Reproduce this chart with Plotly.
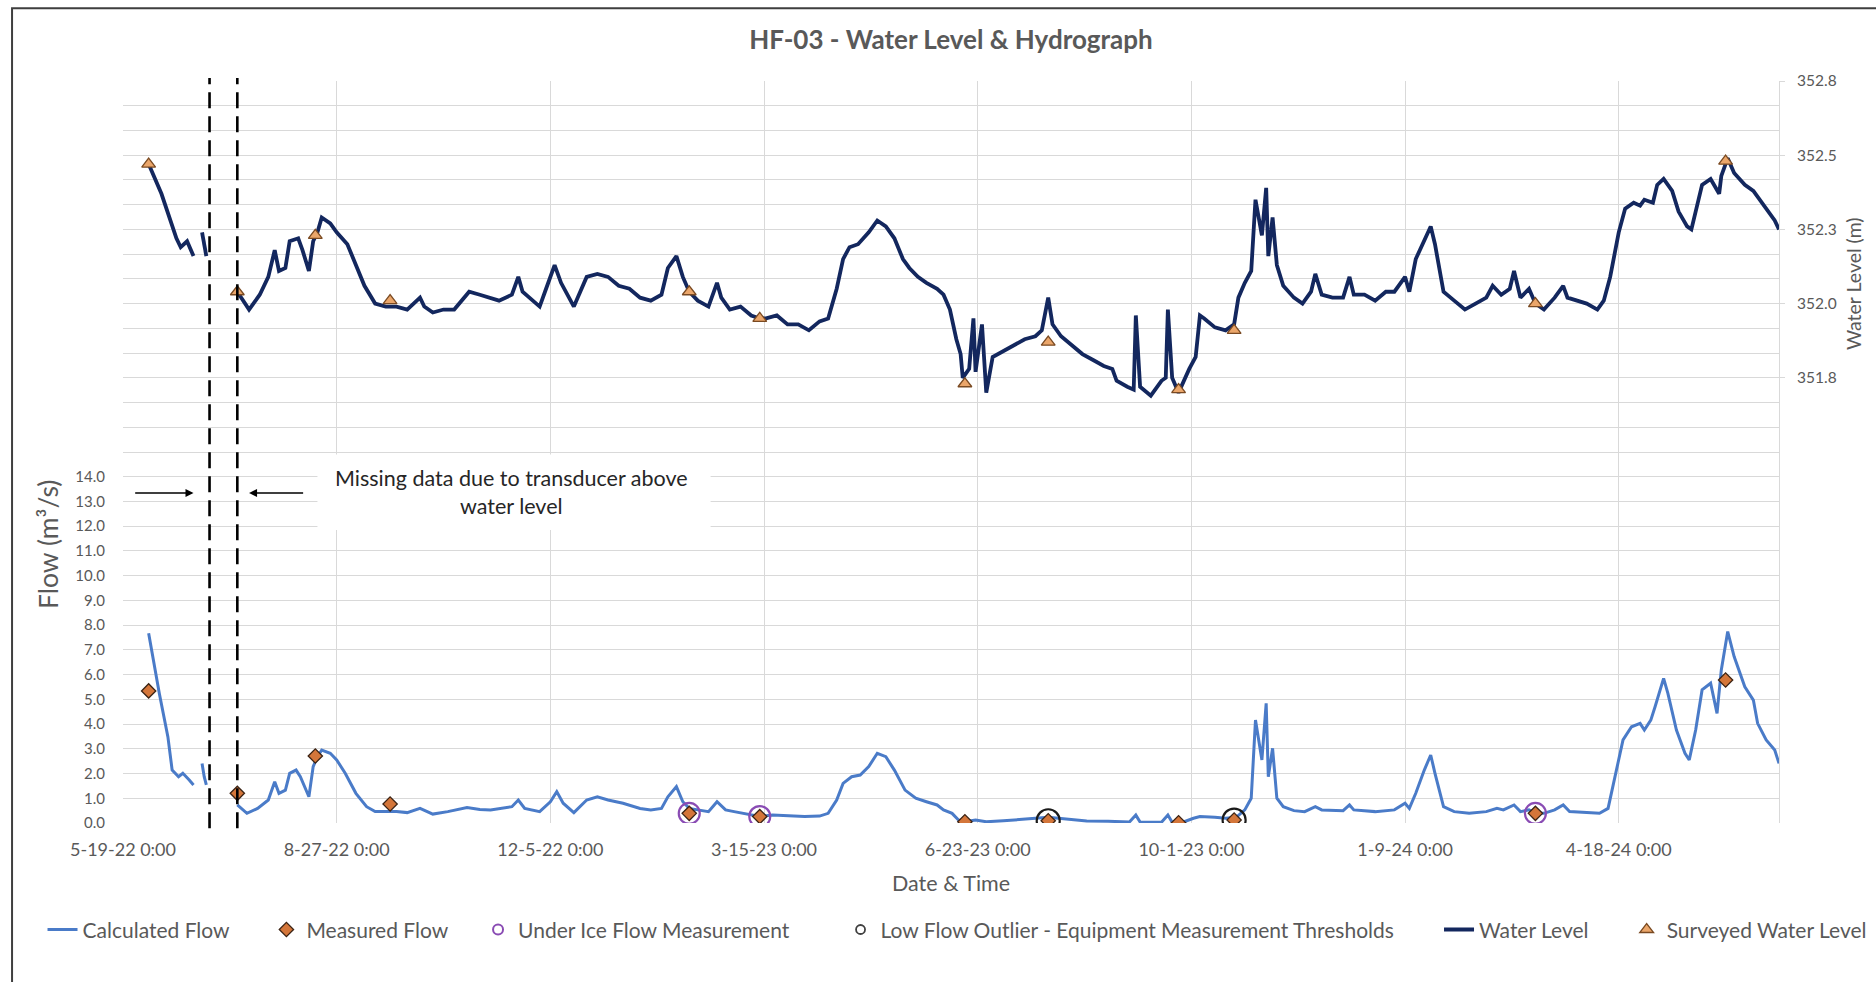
import plotly.graph_objects as go

# ---------------- data ----------------
wl_dates = [
    "2022-05-31", "2022-06-06", "2022-06-13", "2022-06-15", "2022-06-18", "2022-06-20", "2022-06-21",
    "2022-06-23",
    "2022-06-25", "2022-06-26", "2022-06-27",
    "2022-07-01",
    "2022-07-11 12:00", "2022-07-17", "2022-07-22", "2022-07-26", "2022-07-29", "2022-07-31", "2022-08-03",
    "2022-08-05", "2022-08-09", "2022-08-11", "2022-08-14", "2022-08-16", "2022-08-18", "2022-08-20",
    "2022-08-24", "2022-08-27", "2022-09-01", "2022-09-05", "2022-09-09", "2022-09-14", "2022-09-19",
    "2022-09-24", "2022-09-29", "2022-10-05", "2022-10-07", "2022-10-11", "2022-10-16", "2022-10-21",
    "2022-10-28", "2022-11-02", "2022-11-07", "2022-11-11", "2022-11-17", "2022-11-20", "2022-11-22",
    "2022-11-30", "2022-12-03", "2022-12-07", "2022-12-10", "2022-12-16", "2022-12-22", "2022-12-27",
    "2023-01-01", "2023-01-06", "2023-01-11", "2023-01-16", "2023-01-21", "2023-01-26", "2023-01-29",
    "2023-02-02", "2023-02-05", "2023-02-08", "2023-02-12", "2023-02-17", "2023-02-21", "2023-02-23",
    "2023-02-27", "2023-03-04", "2023-03-09", "2023-03-13", "2023-03-16", "2023-03-21", "2023-03-26",
    "2023-03-31", "2023-04-05", "2023-04-10", "2023-04-14", "2023-04-18", "2023-04-21", "2023-04-24",
    "2023-04-28", "2023-05-03", "2023-05-07", "2023-05-11", "2023-05-15", "2023-05-19", "2023-05-22",
    "2023-05-26", "2023-05-30", "2023-06-04", "2023-06-07", "2023-06-10", "2023-06-13", "2023-06-15",
    "2023-06-16", "2023-06-19", "2023-06-21", "2023-06-22", "2023-06-25", "2023-06-27", "2023-06-30",
    "2023-07-05", "2023-07-10", "2023-07-15", "2023-07-20", "2023-07-23", "2023-07-26", "2023-07-28",
    "2023-08-01", "2023-08-06", "2023-08-11", "2023-08-16", "2023-08-21", "2023-08-25", "2023-08-27",
    "2023-09-01", "2023-09-04", "2023-09-05", "2023-09-07", "2023-09-12", "2023-09-17", "2023-09-19",
    "2023-09-20", "2023-09-22", "2023-09-25", "2023-09-30", "2023-10-03", "2023-10-05", "2023-10-07",
    "2023-10-12", "2023-10-17", "2023-10-21", "2023-10-23", "2023-10-26", "2023-10-29", "2023-10-31",
    "2023-11-03", "2023-11-05", "2023-11-06", "2023-11-08", "2023-11-10", "2023-11-13", "2023-11-18",
    "2023-11-22", "2023-11-26", "2023-11-28", "2023-12-01", "2023-12-06", "2023-12-11", "2023-12-14",
    "2023-12-16", "2023-12-21", "2023-12-26", "2023-12-31", "2024-01-04", "2024-01-09", "2024-01-11",
    "2024-01-14", "2024-01-18", "2024-01-21", "2024-01-23", "2024-01-27", "2024-02-01", "2024-02-06",
    "2024-02-11", "2024-02-16", "2024-02-19", "2024-02-23", "2024-02-27", "2024-02-29", "2024-03-03",
    "2024-03-07", "2024-03-10", "2024-03-14", "2024-03-19", "2024-03-23", "2024-03-25", "2024-03-29",
    "2024-04-03", "2024-04-08", "2024-04-11", "2024-04-14", "2024-04-18", "2024-04-21", "2024-04-25",
    "2024-04-28", "2024-04-30", "2024-05-04", "2024-05-06", "2024-05-09", "2024-05-13", "2024-05-16",
    "2024-05-20", "2024-05-22", "2024-05-25", "2024-05-27", "2024-05-31", "2024-06-04", "2024-06-05",
    "2024-06-08", "2024-06-11", "2024-06-16", "2024-06-20", "2024-06-22", "2024-06-26", "2024-06-30",
    "2024-07-02",
]
wl_values = [
    352.47, 352.37, 352.22, 352.19, 352.21, 352.18, 352.16,
    None,
    352.24, 352.19, 352.16,
    None,
    352.04, 351.98, 352.03, 352.09, 352.18, 352.11, 352.12,
    352.21, 352.22, 352.18, 352.11, 352.21, 352.24, 352.29,
    352.27, 352.24, 352.20, 352.13, 352.06, 352.00, 351.99,
    351.99, 351.98, 352.02, 351.99, 351.97, 351.98, 351.98,
    352.04, 352.03, 352.02, 352.01, 352.03, 352.09, 352.04,
    351.99, 352.05, 352.13, 352.07, 351.99, 352.09, 352.10,
    352.09, 352.06, 352.05, 352.02, 352.01, 352.03, 352.12,
    352.16, 352.09, 352.04, 352.01, 351.99, 352.07, 352.02,
    351.98, 351.99, 351.96, 351.95, 351.95, 351.96, 351.93,
    351.93, 351.91, 351.94, 351.95, 352.05, 352.15, 352.19,
    352.20, 352.24, 352.28, 352.26, 352.22, 352.15, 352.12,
    352.09, 352.07, 352.05, 352.03, 351.98, 351.88, 351.83,
    351.75, 351.78, 351.95, 351.77, 351.93, 351.70, 351.82,
    351.84, 351.86, 351.88, 351.89, 351.91, 352.02, 351.93,
    351.89, 351.86, 351.83, 351.81, 351.79, 351.78, 351.74,
    351.72, 351.71, 351.96, 351.72, 351.69, 351.74, 351.75,
    351.98, 351.75, 351.70, 351.78, 351.82, 351.96, 351.95,
    351.92, 351.91, 351.93, 352.02, 352.07, 352.11, 352.35,
    352.23, 352.39, 352.16, 352.29, 352.13, 352.06, 352.02,
    352.00, 352.04, 352.10, 352.03, 352.02, 352.02, 352.09,
    352.03, 352.03, 352.01, 352.04, 352.04, 352.09, 352.04,
    352.15, 352.21, 352.26, 352.20, 352.04, 352.01, 351.98,
    352.00, 352.02, 352.06, 352.03, 352.05, 352.11, 352.02,
    352.05, 352.00, 351.98, 352.02, 352.06, 352.02, 352.01,
    352.00, 351.98, 352.01, 352.09, 352.24, 352.32, 352.34,
    352.33, 352.35, 352.34, 352.40, 352.42, 352.38, 352.31,
    352.26, 352.25, 352.34, 352.40, 352.42, 352.37, 352.43,
    352.49, 352.44, 352.40, 352.38, 352.36, 352.32, 352.28,
    352.25,
]

flow_dates = [
    "2022-05-31", "2022-06-05", "2022-06-09", "2022-06-11", "2022-06-14", "2022-06-16", "2022-06-19",
    "2022-06-21",
    "2022-06-23",
    "2022-06-25", "2022-06-26", "2022-06-27",
    "2022-07-01",
    "2022-07-11 12:00", "2022-07-16", "2022-07-21", "2022-07-26", "2022-07-29", "2022-07-31", "2022-08-03",
    "2022-08-05", "2022-08-08", "2022-08-10", "2022-08-14", "2022-08-16", "2022-08-18", "2022-08-20",
    "2022-08-24", "2022-08-27", "2022-08-31", "2022-09-05", "2022-09-10", "2022-09-14", "2022-09-19",
    "2022-09-24", "2022-09-29", "2022-10-05", "2022-10-11", "2022-10-18", "2022-10-27", "2022-11-02",
    "2022-11-07", "2022-11-17", "2022-11-20", "2022-11-23", "2022-11-30", "2022-12-05", "2022-12-08",
    "2022-12-11", "2022-12-16", "2022-12-22", "2022-12-27", "2023-01-01", "2023-01-08", "2023-01-16",
    "2023-01-21", "2023-01-26", "2023-01-29", "2023-02-02", "2023-02-05", "2023-02-08", "2023-02-12",
    "2023-02-17", "2023-02-21", "2023-02-25", "2023-03-01", "2023-03-09", "2023-03-13", "2023-03-19",
    "2023-03-26", "2023-04-03", "2023-04-10", "2023-04-14", "2023-04-18", "2023-04-21", "2023-04-25",
    "2023-04-29", "2023-05-03", "2023-05-07", "2023-05-11", "2023-05-15", "2023-05-20", "2023-05-25",
    "2023-05-30", "2023-06-04", "2023-06-07", "2023-06-11", "2023-06-14", "2023-06-17", "2023-06-22",
    "2023-06-27", "2023-07-05", "2023-07-12", "2023-07-20", "2023-07-26", "2023-07-30", "2023-08-06",
    "2023-08-13", "2023-08-23", "2023-09-02", "2023-09-05", "2023-09-07", "2023-09-17", "2023-09-20",
    "2023-09-22", "2023-09-27", "2023-10-02", "2023-10-05", "2023-10-12", "2023-10-17", "2023-10-22",
    "2023-10-26", "2023-10-29", "2023-10-31", "2023-11-03", "2023-11-05", "2023-11-06", "2023-11-08",
    "2023-11-10", "2023-11-13", "2023-11-18", "2023-11-23", "2023-11-28", "2023-12-01", "2023-12-11",
    "2023-12-14", "2023-12-16", "2023-12-26", "2024-01-04", "2024-01-09", "2024-01-11", "2024-01-14",
    "2024-01-18", "2024-01-21", "2024-01-23", "2024-01-27", "2024-02-01", "2024-02-08", "2024-02-16",
    "2024-02-21", "2024-02-24", "2024-02-29", "2024-03-03", "2024-03-07", "2024-03-10", "2024-03-14",
    "2024-03-19", "2024-03-23", "2024-03-26", "2024-04-03", "2024-04-09", "2024-04-13", "2024-04-16",
    "2024-04-20", "2024-04-24", "2024-04-28", "2024-04-30", "2024-05-03", "2024-05-05", "2024-05-09",
    "2024-05-11", "2024-05-15", "2024-05-19", "2024-05-21", "2024-05-24", "2024-05-27", "2024-05-31",
    "2024-06-03", "2024-06-05", "2024-06-08", "2024-06-11", "2024-06-16", "2024-06-20", "2024-06-22",
    "2024-06-26", "2024-06-30", "2024-07-02",
]
flow_values = [
    7.67, 5.24, 3.49, 2.14, 1.87, 2.01, 1.74,
    1.54,
    None,
    2.41, 1.87, 1.54,
    None,
    0.73, 0.39, 0.59, 0.93, 1.67, 1.20, 1.33,
    2.01, 2.14, 1.87, 1.06, 2.28, 2.68, 2.95,
    2.82, 2.55, 2.01, 1.20, 0.66, 0.46, 0.46,
    0.46, 0.42, 0.59, 0.36, 0.46, 0.63, 0.55,
    0.53, 0.66, 0.93, 0.59, 0.46, 0.86, 1.27,
    0.80, 0.42, 0.93, 1.06, 0.93, 0.80, 0.59,
    0.53, 0.59, 1.06, 1.47, 0.86, 0.59, 0.53,
    0.46, 0.86, 0.53, 0.46, 0.32, 0.26, 0.32,
    0.28, 0.26, 0.28, 0.39, 0.93, 1.60, 1.87,
    1.94, 2.28, 2.82, 2.68, 2.14, 1.33, 1.00,
    0.86, 0.73, 0.53, 0.39, 0.12, 0.05, 0.12,
    0.05, 0.09, 0.15, 0.19, 0.23, 0.19, 0.12,
    0.08, 0.07, 0.04, 0.32, 0.04, 0.03, 0.32,
    0.03, 0.03, 0.19, 0.26, 0.23, 0.19, 0.23,
    0.53, 1.00, 4.16, 2.55, 4.84, 1.87, 3.02,
    1.00, 0.66, 0.50, 0.46, 0.66, 0.53, 0.50,
    0.73, 0.53, 0.46, 0.53, 0.80, 0.59, 1.20,
    2.14, 2.75, 2.01, 0.66, 0.46, 0.39, 0.46,
    0.59, 0.53, 0.73, 0.46, 0.53, 0.39, 0.39,
    0.53, 0.73, 0.46, 0.42, 0.39, 0.59, 1.74,
    3.36, 3.89, 4.03, 3.76, 4.16, 4.70, 5.85,
    5.24, 3.76, 2.82, 2.55, 3.76, 5.38, 5.65,
    4.43, 6.19, 7.74, 6.73, 5.51, 4.97, 4.03,
    3.36, 2.95, 2.41,
]

visit_dates = ["2022-05-31", "2022-07-11 12:00", "2022-08-17", "2022-09-21", "2023-02-08", "2023-03-13",
               "2023-06-17", "2023-07-26", "2023-09-25", "2023-10-21", "2024-03-10", "2024-06-07"]
surveyed_wl = [352.47, 352.04, 352.23, 352.01, 352.04, 351.95, 351.73, 351.87, 351.71, 351.91, 352.00, 352.48]
measured_flow = [5.34, 1.20, 2.71, 0.77, 0.39, 0.26, 0.05, 0.09, 0.01, 0.12, 0.39, 5.78]

ice_dates = ["2023-02-08", "2023-03-13", "2024-03-10"]
ice_flow = [0.39, 0.26, 0.39]
outlier_dates = ["2023-07-26", "2023-10-21"]
outlier_flow = [0.09, 0.12]

gap_lines = ["2022-06-28 12:00", "2022-07-11 12:00"]

x_tick_vals = ["2022-05-19", "2022-08-27", "2022-12-05", "2023-03-15", "2023-06-23",
               "2023-10-01", "2024-01-09", "2024-04-18"]
x_tick_text = ["5-19-22 0:00", "8-27-22 0:00", "12-5-22 0:00", "3-15-23 0:00", "6-23-23 0:00",
               "10-1-23 0:00", "1-9-24 0:00", "4-18-24 0:00"]
flow_ticks = list(range(0, 31))
flow_tick_text = [f"{v:.1f}" if v <= 14 else "" for v in flow_ticks]
wl_tick_vals = [351.75, 352.0, 352.25, 352.5, 352.75]
wl_tick_text = ["351.8", "352.0", "352.3", "352.5", "352.8"]

# ---------------- styling ----------------
FONT = "Lato, 'Open Sans', sans-serif"
GREY = "#595959"
GRID = "#d9d9d9"
FLOW_C = "#4a7bc8"
WL_C = "#13275e"
LEG_FONT = dict(family=FONT, size=21, color=GREY)

fig = go.Figure()

fig.add_trace(go.Scatter(x=flow_dates, y=flow_values, mode="lines", name="Calculated Flow",
                         line=dict(color=FLOW_C, width=3), connectgaps=False, legend="legend"))
fig.add_trace(go.Scatter(x=visit_dates, y=measured_flow, mode="markers", name="Measured Flow",
                         marker=dict(symbol="diamond", size=11, color="#d4763a",
                                     line=dict(color="#3b2314", width=1.3)), legend="legend2"))
fig.add_trace(go.Scatter(x=ice_dates, y=ice_flow, mode="markers", showlegend=False,
                         name="Under Ice Flow Measurement",
                         marker=dict(symbol="circle-open", size=21, color="#8a4cb4",
                                     line=dict(width=2.2))))
fig.add_trace(go.Scatter(x=[None], y=[None], mode="markers", name="Under Ice Flow Measurement",
                         marker=dict(symbol="circle-open", size=10, color="#8a4cb4",
                                     line=dict(width=2)), legend="legend3"))
fig.add_trace(go.Scatter(x=outlier_dates, y=outlier_flow, mode="markers", showlegend=False,
                         name="Low Flow Outlier - Equipment Measurement Thresholds",
                         marker=dict(symbol="circle-open", size=23, color="#1a1a1a",
                                     line=dict(width=2.2))))
fig.add_trace(go.Scatter(x=[None], y=[None], mode="markers",
                         name="Low Flow Outlier - Equipment Measurement Thresholds",
                         marker=dict(symbol="circle-open", size=9, color="#404040",
                                     line=dict(width=1.8)), legend="legend4"))
fig.add_trace(go.Scatter(x=wl_dates, y=wl_values, mode="lines", name="Water Level", yaxis="y2",
                         line=dict(color=WL_C, width=3.8), connectgaps=False, legend="legend5"))
fig.add_trace(go.Scatter(x=visit_dates, y=surveyed_wl, mode="markers", name="Surveyed Water Level",
                         yaxis="y2",
                         marker=dict(symbol="triangle-up", size=12, color="#eba66a",
                                     line=dict(color="#7a4a22", width=1.3)), legend="legend6"))

# dashed "missing data" lines
for gx in gap_lines:
    fig.add_shape(type="line", xref="x", yref="paper", x0=gx, x1=gx, y0=-0.007, y1=1.004,
                  line=dict(color="black", width=2.6, dash="16px,8px"), layer="above")

# white box behind the note (hides gridlines)
fig.add_shape(type="rect", xref="x", yref="y", x0="2022-08-18", x1="2023-02-18", y0=11.85, y1=14.9,
              fillcolor="white", line=dict(width=0), layer="between")

fig.add_annotation(x="2022-11-17", y=13.4, xref="x", yref="y", showarrow=False,
                   xanchor="center", yanchor="middle",
                   text="Missing data due to transducer above<br>water level",
                   font=dict(family=FONT, size=21.5, color="#262626"), align="center")

# arrows
fig.add_annotation(x="2022-06-21", y=13.34, ax="2022-05-24", ay=13.34, xref="x", yref="y",
                   axref="x", ayref="y", text="", showarrow=True, arrowhead=2, arrowsize=1,
                   arrowwidth=1.6, arrowcolor="black")
fig.add_annotation(x="2022-07-17", y=13.34, ax="2022-08-12", ay=13.34, xref="x", yref="y",
                   axref="x", ayref="y", text="", showarrow=True, arrowhead=2, arrowsize=1,
                   arrowwidth=1.6, arrowcolor="black")

# axis titles as annotations
fig.add_annotation(x=-0.0453, y=0.376, xref="paper", yref="paper", text="Flow (m³/s)",
                   xanchor="center", yanchor="middle",
                   textangle=-90, showarrow=False, font=dict(family=FONT, size=26.5, color=GREY))
fig.add_annotation(x=1.0447, y=0.7264, xref="paper", yref="paper", text="Water Level (m)",
                   xanchor="center", yanchor="middle",
                   textangle=-90, showarrow=False, font=dict(family=FONT, size=19.5, color=GREY))
fig.add_annotation(x=0.5, y=-0.081, xref="paper", yref="paper", text="Date &amp; Time",
                   xanchor="center", yanchor="middle",
                   showarrow=False, font=dict(family=FONT, size=21.5, color=GREY))

# outer chart border
fig.add_shape(type="rect", xref="paper", yref="paper", x0=-0.067, x1=1.07, y0=-0.25, y1=1.098,
              line=dict(color="#3f3f3f", width=2), fillcolor="rgba(0,0,0,0)", layer="above")

def leg(xp):
    return dict(orientation="h", x=xp, xanchor="left", y=-0.144, yanchor="middle",
                font=LEG_FONT, bgcolor="rgba(0,0,0,0)", borderwidth=0)

fig.update_layout(
    width=1876, height=982,
    margin=dict(l=123, r=97, t=81, b=159, autoexpand=False),
    paper_bgcolor="white", plot_bgcolor="white",
    font=dict(family=FONT, color=GREY, size=18),
    title=dict(text="<b>HF-03 - Water Level &amp; Hydrograph</b>", x=0.5, xref="paper",
               xanchor="center", y=0.9598, yanchor="middle",
               font=dict(family=FONT, size=26, color=GREY)),
    xaxis=dict(type="date", range=["2022-05-19", "2024-07-02"], tickvals=x_tick_vals,
               ticktext=x_tick_text, showgrid=True, gridcolor=GRID, gridwidth=1,
               zeroline=False, showline=False, ticks="", ticklabelstandoff=14,
               tickfont=dict(family=FONT, size=18, color=GREY)),
    yaxis=dict(range=[0, 30], tickvals=flow_ticks, ticktext=flow_tick_text, showgrid=True,
               gridcolor=GRID, gridwidth=1, zeroline=False, showline=False, ticks="",
               ticklabelstandoff=17, tickfont=dict(family=FONT, size=15, color=GREY)),
    yaxis2=dict(range=[350.25, 352.75], overlaying="y", side="right", tickvals=wl_tick_vals,
                ticktext=wl_tick_text, showgrid=False, zeroline=False, showline=True,
                linecolor=GRID, linewidth=1, ticks="outside", ticklen=5, tickcolor=GRID,
                ticklabelstandoff=9, tickfont=dict(family=FONT, size=15.5, color=GREY)),
    legend=leg(-0.0486),
    legend2=leg(0.0866),
    legend3=leg(0.2144),
    legend4=leg(0.4333),
    legend5=leg(0.7947),
    legend6=leg(0.9080),
    showlegend=True,
)

fig.write_html("out.html", config={"displayModeBar": False},
               post_script="document.body.style.margin='0px';")
